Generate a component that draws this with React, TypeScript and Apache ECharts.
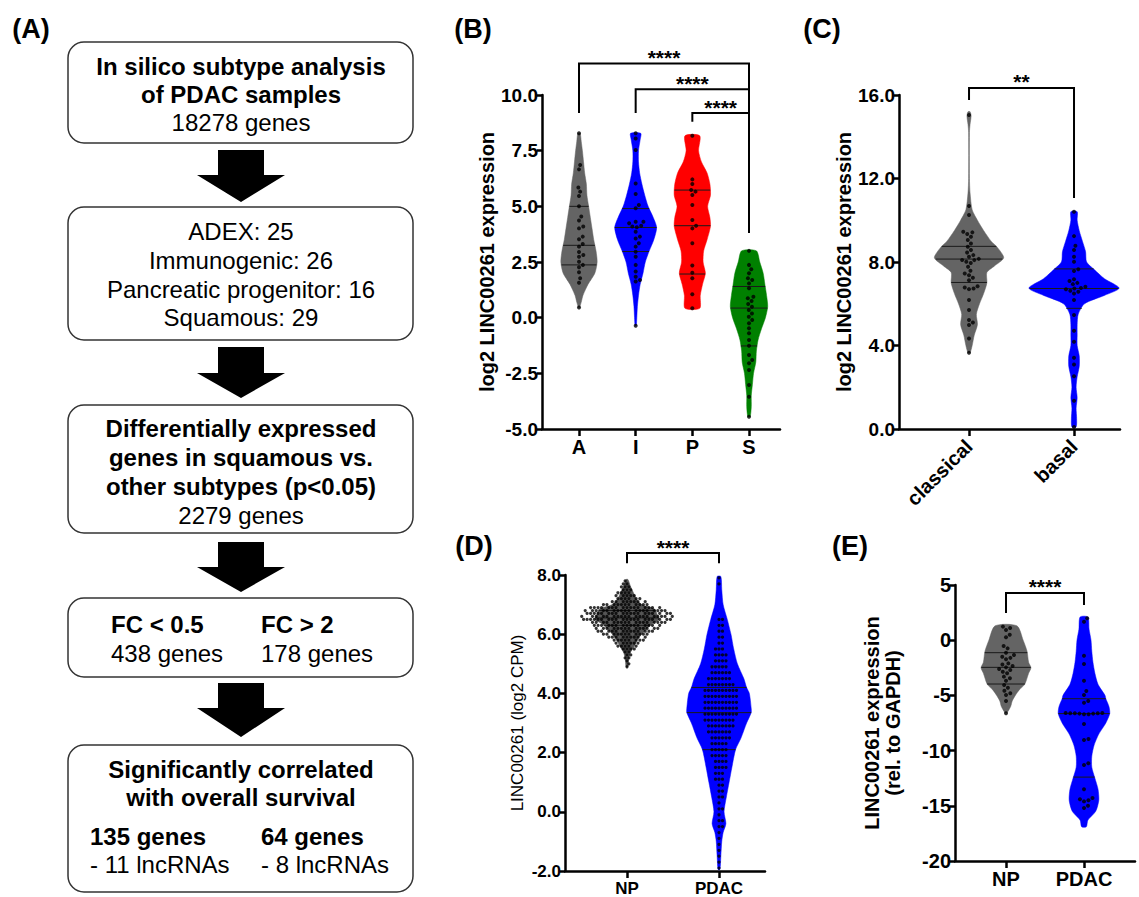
import React, { useEffect, useRef } from 'react';
import * as echarts from 'echarts';

const FONT = '"Liberation Sans", Arial, Helvetica, sans-serif';

// ---------- Panel B: subtypes ----------
const bCategories = ['A', 'I', 'P', 'S'];
const bValuesA = [8.28, 6.86, 6.66, 5.85, 5.66, 5.46, 5.0, 4.54, 4.36, 4.09, 4.01, 3.64, 3.52, 3.31, 3.19, 2.95, 2.81, 2.74, 2.51, 2.37, 2.26, 2.04, 1.77, 1.57, 0.46];
const bValuesI = [8.28, 8.05, 7.53, 6.03, 5.55, 5.06, 4.91, 4.31, 4.31, 4.24, 4.13, 4.09, 4.06, 3.86, 3.64, 3.56, 3.34, 3.19, 2.96, 2.74, 2.37, 2.07, 1.84, 1.69, 1.62, -0.36];
const bValuesP = [8.17, 6.21, 6.0, 5.73, 5.66, 5.51, 5.06, 4.39, 4.13, 4.01, 3.34, 2.34, 2.02, 1.77, 1.05, 0.42];
const bValuesS = [3.0, 2.37, 2.17, 1.99, 1.77, 1.69, 1.54, 1.32, 0.94, 0.87, 0.75, 0.61, 0.49, 0.34, 0.19, 0.04, -0.1, -0.25, -0.48, -0.7, -1.0, -1.26, -1.68, -1.9, -2.05, -2.35, -3.02, -3.55, -4.45];
const bQuartiles = [[2.37, 3.25, 5.0], [2.97, 4.05, 4.9], [1.96, 4.13, 5.73], [-1.27, 0.43, 1.4]];
const bProfileA = [[8.28, 0.02], [7.9, 0.04], [7.5, 0.06], [7.0, 0.08], [6.5, 0.1], [6.0, 0.13], [5.5, 0.14], [5.0, 0.17], [4.5, 0.2], [4.0, 0.23], [3.5, 0.26], [3.0, 0.3], [2.5, 0.32], [2.0, 0.28], [1.5, 0.16], [1.0, 0.07], [0.7, 0.04], [0.46, 0.01]];
const bProfileI = [[8.28, 0.09], [8.0, 0.08], [7.5, 0.05], [7.0, 0.05], [6.5, 0.07], [6.0, 0.11], [5.5, 0.16], [5.0, 0.22], [4.5, 0.31], [4.05, 0.37], [3.5, 0.32], [3.0, 0.24], [2.5, 0.17], [2.0, 0.13], [1.5, 0.08], [1.0, 0.05], [0.5, 0.03], [0.0, 0.02], [-0.36, 0.01]];
const bProfileP = [[8.17, 0.13], [7.5, 0.11], [7.0, 0.16], [6.5, 0.26], [6.0, 0.31], [5.5, 0.32], [5.0, 0.27], [4.5, 0.31], [4.1, 0.32], [3.5, 0.26], [3.0, 0.2], [2.5, 0.19], [2.0, 0.23], [1.5, 0.18], [1.0, 0.14], [0.42, 0.13]];
const bProfileS = [[3.0, 0.13], [2.5, 0.19], [2.0, 0.25], [1.5, 0.28], [1.0, 0.31], [0.5, 0.33], [0.0, 0.29], [-0.5, 0.22], [-1.0, 0.16], [-1.5, 0.13], [-2.0, 0.12], [-2.5, 0.08], [-3.0, 0.06], [-3.5, 0.04], [-4.0, 0.04], [-4.45, 0.02]];
const bBrackets = [[0, 3, 11.42, 9.19, 3.8], [1, 3, 10.26, 9.19, 3.8], [2, 3, 9.19, 8.8, 3.8]];
const bStars = ['****', '****', '****'];

// ---------- Panel C: classical vs basal ----------
const cCategories = ['classical', 'basal'];
const cValuesClassical = [15.04, 10.68, 10.25, 9.45, 9.42, 9.34, 9.21, 9.05, 8.89, 8.73, 8.57, 8.45, 8.33, 8.25, 8.15, 8.1, 8.09, 8.01, 7.95, 7.77, 7.58, 7.45, 7.37, 7.25, 7.13, 6.84, 6.78, 6.73, 6.7, 6.18, 5.7, 5.22, 5.1, 4.98, 4.34, 3.65];
const cValuesBasal = [10.41, 9.24, 8.78, 8.57, 8.25, 8.01, 7.65, 7.57, 7.17, 7.09, 7.0, 6.94, 6.81, 6.75, 6.73, 6.69, 6.62, 6.57, 6.49, 6.18, 5.46, 4.71, 4.18, 3.41, 3.09, 2.53, 1.35, 0.1];
const cQuartiles = [[7.02, 8.14, 8.75], [5.78, 6.73, 7.67]];
const cProfileClassical = [[15.2, 0.01], [15.0, 0.02], [14.6, 0.01], [14.2, 0.004], [12.0, 0.004], [11.3, 0.01], [10.5, 0.03], [10.0, 0.08], [9.5, 0.14], [9.0, 0.21], [8.7, 0.27], [8.2, 0.33], [7.8, 0.24], [7.5, 0.17], [7.0, 0.17], [6.5, 0.14], [6.0, 0.1], [5.5, 0.07], [5.0, 0.08], [4.5, 0.05], [4.0, 0.03], [3.65, 0.01]];
const cProfileBasal = [[10.41, 0.03], [10.0, 0.03], [9.5, 0.05], [9.0, 0.08], [8.5, 0.11], [8.0, 0.12], [7.65, 0.19], [7.2, 0.29], [6.75, 0.43], [6.4, 0.29], [6.0, 0.1], [5.5, 0.04], [5.0, 0.03], [4.5, 0.03], [4.0, 0.03], [3.5, 0.05], [3.0, 0.05], [2.5, 0.03], [2.0, 0.02], [1.5, 0.03], [1.0, 0.02], [0.5, 0.025], [0.1, 0.02]];
const cBrackets = [[0, 1, 16.34, 15.76, 11.07]];
const cStars = ['**'];

// ---------- Panel D: NP vs PDAC (log2 CPM), binned counts ----------
const dCategories = ['NP', 'PDAC'];
const dNpLevels = [7.8, 7.7, 7.6, 7.5, 7.4, 7.3, 7.2, 7.1, 7.0, 6.9, 6.8, 6.7, 6.6, 6.5, 6.4, 6.3, 6.2, 6.1, 6.0, 5.9, 5.8, 5.7, 5.6, 5.5, 5.4, 5.3, 5.2, 5.1, 5.0, 4.9];
const dNpCounts = [1, 2, 3, 3, 4, 5, 6, 8, 11, 16, 18, 19, 19, 20, 17, 15, 14, 13, 11, 9, 8, 6, 5, 4, 2, 2, 2, 1, 1, 1];
const dPdacLevels = [7.9, 7.7, 6.5, 6.3, 6.1, 5.9, 5.7, 5.5, 5.3, 5.1, 4.9, 4.7, 4.5, 4.3, 4.1, 3.9, 3.7, 3.5, 3.3, 3.1, 2.9, 2.7, 2.5, 2.3, 2.1, 1.9, 1.7, 1.5, 1.3, 1.1, 0.9, 0.7, 0.5, 0.3, 0.1, -0.1, -0.3, -0.5, -0.7, -0.9, -1.1, -1.3, -1.5, -1.7, -1.9];
const dPdacCounts = [1, 1, 2, 2, 2, 2, 2, 3, 4, 4, 5, 6, 7, 8, 10, 10, 10, 10, 10, 9, 8, 7, 6, 5, 5, 5, 4, 4, 3, 3, 2, 2, 2, 1, 2, 1, 2, 2, 1, 1, 1, 1, 1, 1, 1];
const dQuartiles = [[6.3, 6.55, 6.8], [2.1, 3.35, 4.2]];
const dProfileNp = [[7.85, 0.01], [7.6, 0.04], [7.4, 0.07], [7.2, 0.1], [7.0, 0.16], [6.85, 0.3], [6.65, 0.33], [6.5, 0.35], [6.35, 0.27], [6.2, 0.22], [6.0, 0.16], [5.8, 0.11], [5.6, 0.08], [5.4, 0.04], [5.2, 0.02], [4.9, 0.01]];
const dProfilePdac = [[7.95, 0.02], [7.5, 0.03], [7.0, 0.045], [6.5, 0.09], [6.0, 0.13], [5.5, 0.16], [5.0, 0.2], [4.5, 0.27], [4.2, 0.3], [4.0, 0.33], [3.5, 0.35], [3.35, 0.35], [3.0, 0.3], [2.5, 0.24], [2.1, 0.18], [1.5, 0.14], [1.0, 0.11], [0.5, 0.08], [0.0, 0.055], [-0.4, 0.075], [-0.7, 0.045], [-1.0, 0.03], [-1.5, 0.02], [-1.95, 0.01]];
const dBrackets = [[0, 1, 8.74, 8.4, 8.4]];
const dStars = ['****'];

// ---------- Panel E: NP vs PDAC (rel. to GAPDH) ----------
const eCategories = ['NP', 'PDAC'];
const eValuesNp = [1.23, 1.1, 0.92, 0.5, 0.26, -0.53, -0.74, -1.13, -1.34, -1.49, -1.6, -1.73, -2.1, -2.2, -2.34, -2.46, -2.6, -2.7, -2.85, -3.0, -3.3, -3.45, -3.67, -4.06, -4.3, -4.57, -4.81, -4.96, -5.5, -6.62];
const eValuesPdac = [1.98, 1.68, -1.4, -2.16, -3.67, -4.6, -4.96, -5.5, -5.66, -6.6, -6.6, -6.62, -6.62, -6.62, -6.65, -6.65, -6.7, -6.7, -7.59, -8.95, -9.04, -11.15, -11.3, -13.5, -14.3, -14.4, -14.5, -14.6, -15.0, -15.2];
const eQuartiles = [[-3.97, -2.46, -1.13], [-12.4, -6.65, -5.3]];
const eProfileNp = [[1.3, 0.14], [0.0, 0.22], [-1.0, 0.27], [-2.0, 0.29], [-2.5, 0.32], [-3.0, 0.29], [-4.0, 0.24], [-4.5, 0.17], [-5.0, 0.12], [-5.5, 0.08], [-6.0, 0.06], [-6.6, 0.01]];
const eProfilePdac = [[2.1, 0.05], [1.0, 0.065], [0.0, 0.09], [-1.0, 0.1], [-2.0, 0.115], [-3.0, 0.14], [-4.0, 0.18], [-5.0, 0.27], [-5.3, 0.28], [-6.0, 0.32], [-6.65, 0.33], [-7.5, 0.28], [-8.5, 0.19], [-9.5, 0.13], [-10.5, 0.1], [-11.5, 0.1], [-12.5, 0.14], [-13.5, 0.18], [-14.5, 0.19], [-15.5, 0.15], [-16.3, 0.05], [-16.9, 0.03]];
const eBrackets = [[0, 1, 4.28, 2.46, 3.19]];
const eStars = ['****'];

// ---------- Panel A: flowchart texts ----------
const flowBox1 = ['In silico subtype analysis', 'of PDAC samples', '18278 genes'];
const flowBox2 = ['ADEX: 25', 'Immunogenic: 26', 'Pancreatic progenitor: 16', 'Squamous: 29'];
const flowBox3 = ['Differentially expressed', 'genes in squamous vs.', 'other subtypes (p<0.05)', '2279 genes'];
const flowBox4 = ['FC < 0.5', '438 genes', 'FC > 2', '178 genes'];
const flowBox5 = ['Significantly correlated', 'with overall survival', '135 genes', '- 11 lncRNAs', '64 genes', '- 8 lncRNAs'];

const GRAY = '#646464';
const BLUE = '#0000ff';

function expand(levels: number[], counts: number[]) {
  const out: number[] = [];
  levels.forEach((v, i) => { for (let k = 0; k < counts[i]; k++) out.push(v); });
  return out;
}

function swarm(values: number[], center: number, pxX: number, pxY: number, dia: number) {
  const pts: { x: number; y: number }[] = [];
  const res: number[][] = [];
  const sorted = [...values].sort((a, b) => a - b);
  for (const v of sorted) {
    const y = v * pxY;
    const cands = [0];
    for (const p of pts) {
      const dy = Math.abs(p.y - y);
      if (dy < dia) {
        const dx = Math.sqrt(dia * dia - dy * dy);
        cands.push(p.x + dx, p.x - dx);
      }
    }
    cands.sort((a, b) => Math.abs(a) - Math.abs(b) || b - a);
    let chosen = 0;
    for (const c of cands) {
      let ok = true;
      for (const p of pts) {
        const dx = p.x - c, dy = p.y - y;
        if (dx * dx + dy * dy < dia * dia - 1e-6) { ok = false; break; }
      }
      if (ok) { chosen = c; break; }
    }
    pts.push({ x: chosen, y });
    res.push([center + chosen / pxX, v]);
  }
  return res;
}

function interpWidth(prof: number[][], q: number) {
  for (let i = 0; i < prof.length - 1; i++) {
    const [v1, w1] = prof[i];
    const [v2, w2] = prof[i + 1];
    if ((q <= v1 && q >= v2) || (q >= v1 && q <= v2)) {
      const t = v1 === v2 ? 0 : (q - v1) / (v2 - v1);
      return w1 + (w2 - w1) * t;
    }
  }
  return 0;
}

const panels = [
  {
    grid: { left: 542, top: 95, width: 238, height: 334 }, xMin: -0.653, xMax: 3.547, yMin: -5, yMax: 10, yInt: 2.5, digits: 1,
    cats: bCategories, groups: [bValuesA, bValuesI, bValuesP, bValuesS], profiles: [bProfileA, bProfileI, bProfileP, bProfileS],
    quartiles: bQuartiles, colors: [GRAY, BLUE, '#ff0000', '#008000'], brackets: bBrackets, stars: bStars,
    dot: 4, dia: 4.6, yName: 'log2 LINC00261 expression', yNameSize: 20, yNameWeight: 'bold', yNameGap: 35,
    yLabelSize: 19, xLabelSize: 20, xRotate: 0, xMargin: 8,
  },
  {
    grid: { left: 899, top: 95, width: 221, height: 334 }, xMin: -0.667, xMax: 1.438, yMin: 0, yMax: 16, yInt: 4, digits: 1,
    cats: cCategories, groups: [cValuesClassical, cValuesBasal], profiles: [cProfileClassical, cProfileBasal],
    quartiles: cQuartiles, colors: [GRAY, BLUE], brackets: cBrackets, stars: cStars,
    dot: 4, dia: 4.6, yName: 'log2 LINC00261 expression', yNameSize: 20, yNameWeight: 'bold', yNameGap: 33,
    yLabelSize: 19, xLabelSize: 20, xRotate: 45, xMargin: 14,
  },
  {
    grid: { left: 565, top: 575, width: 200, height: 296 }, xMin: -0.674, xMax: 1.5, yMin: -2, yMax: 8, yInt: 2, digits: 1,
    cats: dCategories, groups: [expand(dNpLevels, dNpCounts), expand(dPdacLevels, dPdacCounts)], profiles: [dProfileNp, dProfilePdac],
    quartiles: dQuartiles, colors: ['#555555', BLUE], brackets: dBrackets, stars: dStars,
    dot: 3.2, dia: 3.5, yName: 'LINC00261 (log2 CPM)', yNameSize: 17, yNameWeight: 'normal', yNameGap: 34,
    yLabelSize: 17, xLabelSize: 17, xRotate: 0, xMargin: 9,
  },
  {
    grid: { left: 955, top: 585, width: 180, height: 276 }, xMin: -0.654, xMax: 1.654, yMin: -20, yMax: 5, yInt: 5, digits: 0,
    cats: eCategories, groups: [eValuesNp, eValuesPdac], profiles: [eProfileNp, eProfilePdac],
    quartiles: eQuartiles, colors: [GRAY, BLUE], brackets: eBrackets, stars: eStars,
    dot: 4, dia: 4.6, yName: 'LINC00261 expression\n(rel. to GAPDH)', yNameSize: 20, yNameWeight: 'bold', yNameGap: 52,
    yLabelSize: 20, xLabelSize: 20, xRotate: 0, xMargin: 8,
  },
];

function buildOption() {
  const grids: any[] = [];
  const xAxes: any[] = [];
  const yAxes: any[] = [];
  const series: any[] = [];

  panels.forEach((p, gi) => {
    grids.push({ ...p.grid, containLabel: false });
    const ticks = p.cats.map((_, i) => i);
    xAxes.push({
      type: 'value', gridIndex: gi, min: p.xMin, max: p.xMax,
      axisLine: { show: true, onZero: false, lineStyle: { color: '#000', width: 2.5 } },
      axisTick: { show: true, customValues: ticks, length: 7, lineStyle: { color: '#000', width: 2.5 } },
      axisLabel: {
        show: true, customValues: ticks, formatter: (v: number) => p.cats[Math.round(v)] ?? '',
        fontSize: p.xLabelSize, fontWeight: 'bold', color: '#000', margin: p.xMargin, rotate: p.xRotate, fontFamily: FONT,
      },
      splitLine: { show: false },
    });
    yAxes.push({
      type: 'value', gridIndex: gi, min: p.yMin, max: p.yMax, interval: p.yInt,
      axisLine: { show: true, onZero: false, lineStyle: { color: '#000', width: 2.5 } },
      axisTick: { show: true, length: 5, lineStyle: { color: '#000', width: 2.5 } },
      axisLabel: {
        formatter: (v: number) => v.toFixed(p.digits), fontSize: p.yLabelSize, fontWeight: 'bold', color: '#000', margin: 4, fontFamily: FONT,
      },
      splitLine: { show: false },
      name: p.yName, nameLocation: 'middle', nameRotate: 90, nameGap: p.yNameGap,
      nameTextStyle: { fontSize: p.yNameSize, fontWeight: p.yNameWeight, color: '#000', fontFamily: FONT, lineHeight: 21 },
    });

    const profiles = p.profiles;
    const quartiles = p.quartiles;
    const colors = p.colors;
    series.push({
      type: 'custom', xAxisIndex: gi, yAxisIndex: gi, z: 1, clip: false, silent: true,
      data: profiles.map((pr, i) => [i, pr[0][0]]),
      encode: { x: 0, y: 1 },
      renderItem: (params: any, api: any) => {
        const i = params.dataIndex;
        const prof = profiles[i];
        const right = prof.map(([v, w]) => api.coord([i + w, v]));
        const left = prof.slice().reverse().map(([v, w]) => api.coord([i - w, v]));
        const children: any[] = [{
          type: 'polygon', shape: { points: right.concat(left), smooth: 0.25 },
          style: { fill: colors[i], stroke: colors[i], lineWidth: 0.5 },
        }];
        for (const q of quartiles[i]) {
          const w = interpWidth(prof, q);
          const a = api.coord([i - w, q]);
          const b = api.coord([i + w, q]);
          children.push({ type: 'line', shape: { x1: a[0], y1: a[1], x2: b[0], y2: b[1] }, style: { stroke: '#1a1a1a', lineWidth: 1 } });
        }
        return { type: 'group', children };
      },
    });

    const pxX = p.grid.width / (p.xMax - p.xMin);
    const pxY = p.grid.height / (p.yMax - p.yMin);
    const pts: number[][] = [];
    p.groups.forEach((vals, i) => { pts.push(...swarm(vals, i, pxX, pxY, p.dia)); });
    series.push({
      type: 'scatter', xAxisIndex: gi, yAxisIndex: gi, z: 3, silent: true,
      symbol: 'circle', symbolSize: p.dot, itemStyle: { color: '#000' }, data: pts,
    });

    const brackets = p.brackets;
    const stars = p.stars;
    series.push({
      type: 'custom', xAxisIndex: gi, yAxisIndex: gi, z: 4, clip: false, silent: true,
      data: brackets.map((b) => [b[0], b[2]]),
      encode: { x: 0, y: 1 },
      renderItem: (params: any, api: any) => {
        const [x1, x2, yt, yl, yr] = brackets[params.dataIndex];
        const pL = api.coord([x1, yl]);
        const pTL = api.coord([x1, yt]);
        const pTR = api.coord([x2, yt]);
        const pR = api.coord([x2, yr]);
        return {
          type: 'group', children: [
            { type: 'polyline', shape: { points: [pL, pTL, pTR, pR] }, style: { stroke: '#000', lineWidth: 2, fill: null } },
            {
              type: 'text', x: (pTL[0] + pTR[0]) / 2, y: pTL[1] - 6,
              style: { text: stars[params.dataIndex], fontSize: 21, fontWeight: 'bold', fontFamily: FONT, fill: '#000', align: 'center', verticalAlign: 'middle', textAlign: 'center', textVerticalAlign: 'middle' },
            },
          ],
        };
      },
    });
  });

  // ---- Panel A graphic ----
  const g: any[] = [];
  const txt = (text: string, x: number, y: number, bold: boolean, size: number, align = 'center') => ({
    type: 'text', x, y, silent: true,
    style: { text, fontSize: size, fontWeight: bold ? 'bold' : 'normal', fontFamily: FONT, fill: '#000', align, verticalAlign: 'middle', textAlign: align, textVerticalAlign: 'middle' },
  });
  const box = (y1: number, y2: number) => ({
    type: 'rect', shape: { x: 68, y: y1, width: 345, height: y2 - y1, r: 16 }, silent: true,
    style: { fill: '#fff', stroke: '#333', lineWidth: 1.5 },
  });
  const arrow = (top: number, head: number, tip: number) => ({
    type: 'polygon', silent: true,
    shape: { points: [[218, top], [264, top], [264, head], [285, head], [241, tip], [197, head], [218, head]] },
    style: { fill: '#000' },
  });
  const CX = 241;
  const BS = 24;
  const RS = 24;
  g.push(box(42, 143), box(207, 340), box(405, 533), box(598, 677), box(745, 892));
  g.push(arrow(150, 175, 202), arrow(347, 373, 398), arrow(542, 567, 592), arrow(683, 708, 737));
  g.push(txt(flowBox1[0], CX, 66, true, BS), txt(flowBox1[1], CX, 94, true, BS), txt(flowBox1[2], CX, 122, false, RS));
  [231, 260, 289, 317].forEach((y, i) => g.push(txt(flowBox2[i], CX, y, false, RS)));
  g.push(txt(flowBox3[0], CX, 428, true, BS), txt(flowBox3[1], CX, 457, true, BS), txt(flowBox3[2], CX, 486, true, BS), txt(flowBox3[3], CX, 515, false, RS));
  g.push(txt(flowBox4[0], 111, 624, true, BS, 'left'), txt(flowBox4[1], 111, 653, false, RS, 'left'));
  g.push(txt(flowBox4[2], 261, 624, true, BS, 'left'), txt(flowBox4[3], 261, 653, false, RS, 'left'));
  g.push(txt(flowBox5[0], CX, 769, true, BS), txt(flowBox5[1], CX, 797, true, BS));
  g.push(txt(flowBox5[2], 90, 836, true, BS, 'left'), txt(flowBox5[3], 90, 864, false, RS, 'left'));
  g.push(txt(flowBox5[4], 261, 836, true, BS, 'left'), txt(flowBox5[5], 261, 864, false, RS, 'left'));
  // panel labels
  g.push(txt('(A)', 31, 29, true, 27), txt('(B)', 473, 29, true, 27), txt('(C)', 822, 29, true, 27), txt('(D)', 474, 546, true, 27), txt('(E)', 850, 546, true, 27));

  return {
    animation: false,
    backgroundColor: '#fff',
    textStyle: { fontFamily: FONT },
    grid: grids,
    xAxis: xAxes,
    yAxis: yAxes,
    series,
    graphic: { elements: g },
  };
}

export default function App() {
  const ref = useRef<HTMLDivElement>(null);
  useEffect(() => {
    if (!ref.current) return;
    const chart = echarts.init(ref.current, undefined, { renderer: 'svg' });
    chart.setOption(buildOption() as any);
    return () => chart.dispose();
  }, []);
  return <div ref={ref} style={{ position: 'absolute', left: 0, top: 0, width: 1139, height: 897, background: '#fff' }} />;
}
